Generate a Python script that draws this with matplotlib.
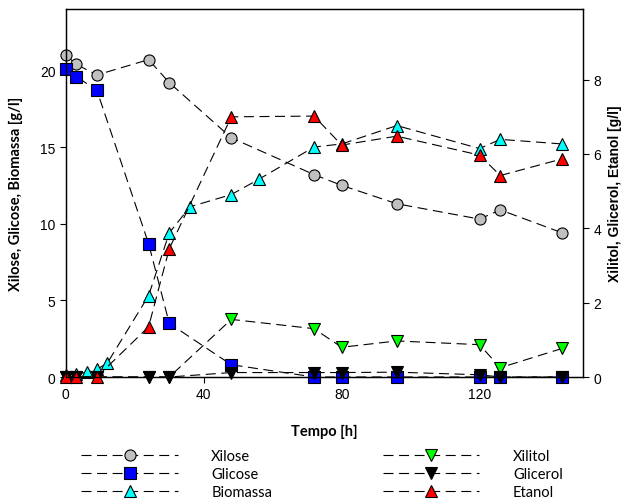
"""Fermentation kinetics: sugars, biomass and products over time"""

import matplotlib
matplotlib.use('Agg')
import matplotlib.pyplot as plt

# left axis [g/l]
t_xil = [0, 3, 9, 24, 30, 48, 72, 80, 96, 120, 126, 144]
xilose = [21.0, 20.4, 19.7, 20.7, 19.2, 15.6, 13.2, 12.5, 11.3, 10.3, 10.9, 9.4]

t_gli = [0, 3, 9, 24, 30, 48, 72, 80, 96, 120, 126, 144]
glicose = [20.1, 19.6, 18.7, 8.7, 3.5, 0.8, 0.0, 0.0, 0.0, 0.0, 0.0, 0.0]

t_bio = [0, 3, 6, 9, 12, 24, 30, 36, 48, 56, 72, 80, 96, 120, 126, 144]
biomassa = [0.1, 0.2, 0.3, 0.5, 0.9, 5.3, 9.4, 11.1, 11.9, 12.9, 15.0, 15.2,
            16.4, 14.9, 15.5, 15.2]

# right axis [g/l]
t_prod = [0, 3, 9, 24, 30, 48, 72, 80, 96, 120, 126, 144]
xilitol = [0.0, 0.0, 0.0, 0.0, 0.0, 1.55, 1.3, 0.8, 0.97, 0.87, 0.25, 0.77]
glicerol = [0.0, 0.0, 0.0, 0.0, 0.0, 0.12, 0.12, 0.12, 0.13, 0.06, 0.0, 0.0]
etanol = [0.0, 0.0, 0.0, 1.35, 3.45, 7.0, 7.02, 6.24, 6.48, 5.97, 5.42, 5.87]

tick_font = 'Liberation Sans'
label_font = 'Lato'

fig = plt.figure(figsize=(6.33, 5.02), dpi=100)
ax = fig.add_axes([0.104, 0.247, 0.817, 0.733])
ax2 = ax.twinx()

line_kw = dict(color='black', lw=0.8, linestyle=(0, (9, 5)), markeredgecolor='black',
               markeredgewidth=0.8, clip_on=False)

h1, = ax.plot(t_xil, xilose, marker='o', ms=8, markerfacecolor='#c0c0c0', label='Xilose', **line_kw)
h2, = ax.plot(t_gli, glicose, marker='s', ms=8, markerfacecolor='#0000ff', label='Glicose', **line_kw)
h3, = ax.plot(t_bio, biomassa, marker='^', ms=9, markerfacecolor='#00ffff', label='Biomassa', **line_kw)

h4, = ax2.plot(t_prod, xilitol, marker='v', ms=9, markerfacecolor='#00ff00', label='Xilitol', **line_kw)
h5, = ax2.plot(t_prod, glicerol, marker='v', ms=9, markerfacecolor='black', label='Glicerol', **line_kw)
h6, = ax2.plot(t_prod, etanol, marker='^', ms=9, markerfacecolor='#ff0000', label='Etanol', **line_kw)

ax.set_xlim(0, 150)
ax.set_ylim(0, 24)
ax2.set_ylim(0, 9.9)
ax.set_xticks([0, 40, 80, 120])
ax.set_yticks([0, 5, 10, 15, 20])
ax2.set_yticks([0, 2, 4, 6, 8])

for a in (ax, ax2):
    a.tick_params(direction='out', length=4, width=0.8, labelsize=10)
    for lab in a.get_xticklabels() + a.get_yticklabels():
        lab.set_fontfamily(tick_font)
    for s in a.spines.values():
        s.set_linewidth(0.9)

ax.set_xlabel('Tempo [h]', fontsize=10.5, fontweight='bold', fontfamily=label_font, labelpad=16)
ax.set_ylabel('Xilose, Glicose, Biomassa [g/l]', fontsize=10.5, fontweight='bold',
              fontfamily=label_font, labelpad=12)
ax2.set_ylabel('Xilitol, Glicerol, Etanol [g/l]', fontsize=10, fontweight='bold',
               fontfamily=tick_font, labelpad=5)

fig.legend(handles=[h1, h2, h3, h4, h5, h6], ncol=2, loc='lower left',
           bbox_to_anchor=(0.108, -0.023), frameon=False,
           prop={'family': label_font, 'size': 10.5},
           handlelength=6.6, handletextpad=2.3, columnspacing=7.6,
           labelspacing=0.3, numpoints=1)

fig.savefig('out.png', dpi=100)
